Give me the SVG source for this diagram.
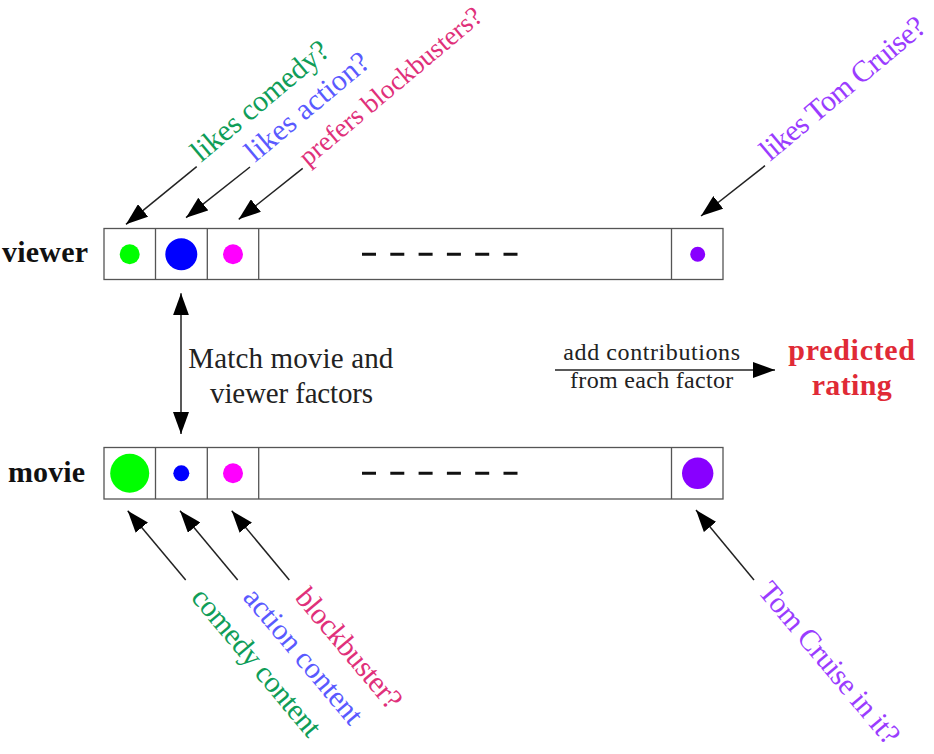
<svg xmlns="http://www.w3.org/2000/svg" width="934" height="754" viewBox="0 0 934 754">
<style>
  .cell{fill:#fff;stroke:#555;stroke-width:1.3}
  .div{stroke:#555;stroke-width:1.3}
  .dash{stroke:#111;stroke-width:3;stroke-dasharray:14 14.3}
  .lbl{font-family:"Liberation Serif",serif;font-size:30px}
  .name{font-family:"Liberation Serif",serif;font-size:30px;font-weight:bold;fill:#111}
  .note{font-family:"Liberation Serif",serif;fill:#222}
  .arr{stroke:#222;stroke-width:1.5;fill:none;marker-end:url(#ah)}
  .g{fill:#0f9d58}.b{fill:#5a5aff}.p{fill:#e0307a}.v{fill:#9a3cff}
</style>
<defs>
  <marker id="ah" viewBox="0 0 22 16" refX="22" refY="8" markerWidth="22" markerHeight="16" markerUnits="userSpaceOnUse" orient="auto-start-reverse">
    <path d="M0,0 L22,8 L0,16 Z" fill="#000"/>
  </marker>
</defs>
<rect width="934" height="754" fill="#fff"/>

<g id="viewer">
  <rect class="cell" x="104" y="228.5" width="619" height="51"/>
  <line class="div" x1="155.5" y1="228.5" x2="155.5" y2="279.5"/>
  <line class="div" x1="207.3" y1="228.5" x2="207.3" y2="279.5"/>
  <line class="div" x1="258.7" y1="228.5" x2="258.7" y2="279.5"/>
  <line class="div" x1="671.5" y1="228.5" x2="671.5" y2="279.5"/>
  <circle cx="129.7" cy="254.3" r="10" fill="#00ff00"/>
  <circle cx="181.3" cy="254.3" r="16" fill="#0000ff"/>
  <circle cx="233" cy="254.3" r="10" fill="#ff00ff"/>
  <circle cx="697.7" cy="254.3" r="7.5" fill="#8800ff"/>
  <line class="dash" x1="362" y1="254.3" x2="518" y2="254.3"/>
  <text class="name" x="2" y="261.7" textLength="86">viewer</text>
</g>

<g id="movie">
  <rect class="cell" x="104" y="447.5" width="619" height="51.5"/>
  <line class="div" x1="155.5" y1="447.5" x2="155.5" y2="499"/>
  <line class="div" x1="207.3" y1="447.5" x2="207.3" y2="499"/>
  <line class="div" x1="258.7" y1="447.5" x2="258.7" y2="499"/>
  <line class="div" x1="671.5" y1="447.5" x2="671.5" y2="499"/>
  <circle cx="129.7" cy="473.3" r="19.5" fill="#00ff00"/>
  <circle cx="181.3" cy="473.3" r="8" fill="#0000ff"/>
  <circle cx="233" cy="473.3" r="10" fill="#ff00ff"/>
  <circle cx="697.7" cy="473.3" r="15.7" fill="#8800ff"/>
  <line class="dash" x1="362" y1="473.3" x2="518" y2="473.3"/>
  <text class="name" x="8" y="481.7" textLength="77">movie</text>
</g>

<g id="connectors">
  <path class="arr" d="M196.7,166.7 L126,224.3"/>
  <path class="arr" d="M250,167 L186,217.7"/>
  <path class="arr" d="M302.7,168.3 L238.7,219.3"/>
  <path class="arr" d="M765,165.7 L701,216"/>
  <path class="arr" d="M185.7,580 L127.7,510.7"/>
  <path class="arr" d="M237.7,580 L180,510.7"/>
  <path class="arr" d="M289.3,580 L231.7,510.7"/>
  <path class="arr" d="M754,580 L696,510"/>
  <path class="arr" d="M181,293.3 L181,434" style="marker-start:url(#ah)"/>
  <path class="arr" d="M555,370 L775,370"/>
</g>

<g id="viewer-labels">
  <text class="lbl g" x="201" y="163" transform="rotate(-40 201 163)" textLength="170">likes comedy?</text>
  <text class="lbl b" x="255" y="163" transform="rotate(-40 255 163)" textLength="152">likes action?</text>
  <text class="lbl p" x="308" y="167" transform="rotate(-40 308 167)" textLength="230" style="font-size:27px">prefers blockbusters?</text>
  <text class="lbl v" x="770" y="162" transform="rotate(-40 770 162)" textLength="206">likes Tom Cruise?</text>
</g>

<g id="movie-labels">
  <text class="lbl g" x="190" y="598" transform="rotate(50 190 598)" textLength="184">comedy content</text>
  <text class="lbl b" x="242" y="598" transform="rotate(50 242 598)" textLength="168">action content</text>
  <text class="lbl p" x="294" y="598" transform="rotate(50 294 598)" textLength="148">blockbuster?</text>
  <text class="lbl v" x="757" y="592" transform="rotate(50 757 592)" textLength="202">Tom Cruise in it?</text>
</g>

<g id="match-label">
  <text class="note" font-size="29" x="290.8" y="368.3" text-anchor="middle" textLength="205">Match movie and</text>
  <text class="note" font-size="29" x="291.6" y="403.3" text-anchor="middle" textLength="163">viewer factors</text>
</g>

<g id="sum-label">
  <text class="note" font-size="24" x="651.7" y="360" text-anchor="middle" textLength="176.7">add contributions</text>
  <text class="note" font-size="24" x="651.7" y="388.3" text-anchor="middle" textLength="163.3">from each factor</text>
</g>

<g id="predicted">
  <text font-family="Liberation Serif,serif" font-size="30" font-weight="bold" fill="#e02a36" x="851.7" y="360" text-anchor="middle" textLength="126.7">predicted</text>
  <text font-family="Liberation Serif,serif" font-size="30" font-weight="bold" fill="#e02a36" x="851.7" y="395" text-anchor="middle" textLength="80">rating</text>
</g>
</svg>
